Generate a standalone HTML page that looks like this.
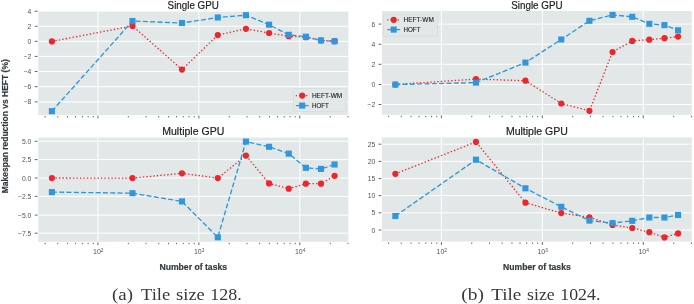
<!DOCTYPE html>
<html><head><meta charset="utf-8"><style>
html,body{margin:0;padding:0;background:#fff;}
body{width:694px;height:304px;overflow:hidden;}
svg{display:block;will-change:transform;}
</style></head><body>
<svg width="694" height="304" viewBox="0 0 694 304">
<rect width="694" height="304" fill="#fff"/>
<clipPath id="c0"><rect x="38.2" y="11.2" width="310.10" height="103.80"/></clipPath>
<rect x="38.2" y="11.2" width="310.10" height="103.80" fill="#e2e8e8"/>
<path d="M38.2 11.2H348.3M38.2 26.3H348.3M38.2 41.3H348.3M38.2 56.4H348.3M38.2 71.5H348.3M38.2 86.7H348.3M38.2 101.9H348.3M97.92 11.2V115.0M198.87 11.2V115.0M299.82 11.2V115.0" stroke="#ffffff" stroke-width="1.0" fill="none" clip-path="url(#c0)"/>
<path d="M34.70 11.2H37.60M34.70 26.3H37.60M34.70 41.3H37.60M34.70 56.4H37.60M34.70 71.5H37.60M34.70 86.7H37.60M34.70 101.9H37.60" stroke="#555555" stroke-width="0.9" fill="none"/>
<path d="M45.14 116.00V117.40M57.75 116.00V117.40M67.53 116.00V117.40M75.52 116.00V117.40M82.28 116.00V117.40M88.14 116.00V117.40M93.30 116.00V117.40M97.92 115.60V118.40M128.31 116.00V117.40M146.09 116.00V117.40M158.70 116.00V117.40M168.48 116.00V117.40M176.47 116.00V117.40M183.23 116.00V117.40M189.09 116.00V117.40M194.25 116.00V117.40M198.87 115.60V118.40M229.26 116.00V117.40M247.04 116.00V117.40M259.65 116.00V117.40M269.43 116.00V117.40M277.42 116.00V117.40M284.18 116.00V117.40M290.04 116.00V117.40M295.20 116.00V117.40M299.82 115.60V118.40M330.21 116.00V117.40M347.99 116.00V117.40" stroke="#555555" stroke-width="0.9" fill="none"/>
<text x="31.40" y="13.70" font-family="Liberation Sans, sans-serif" font-size="6.8" fill="#555555" text-anchor="end">4</text>
<text x="31.40" y="28.80" font-family="Liberation Sans, sans-serif" font-size="6.8" fill="#555555" text-anchor="end">2</text>
<text x="31.40" y="43.80" font-family="Liberation Sans, sans-serif" font-size="6.8" fill="#555555" text-anchor="end">0</text>
<text x="31.40" y="58.90" font-family="Liberation Sans, sans-serif" font-size="6.8" fill="#555555" text-anchor="end">−2</text>
<text x="31.40" y="74.00" font-family="Liberation Sans, sans-serif" font-size="6.8" fill="#555555" text-anchor="end">−4</text>
<text x="31.40" y="89.20" font-family="Liberation Sans, sans-serif" font-size="6.8" fill="#555555" text-anchor="end">−6</text>
<text x="31.40" y="104.40" font-family="Liberation Sans, sans-serif" font-size="6.8" fill="#555555" text-anchor="end">−8</text>
<text x="193.25" y="9.00" font-family="Liberation Sans, sans-serif" font-size="10.3" fill="#1e1e1e" stroke="#1e1e1e" stroke-width="0.2" text-anchor="middle" textLength="51.3" lengthAdjust="spacingAndGlyphs">Single GPU</text>
<g clip-path="url(#c0)">
<polyline points="51.89,41.4 132.49,25.9 181.96,69.6 217.80,35.1 245.93,28.8 269.08,33.0 288.76,36.2 305.87,37.2 321.01,40.5 334.59,41.2" fill="none" stroke="#ec262c" stroke-width="1.3" stroke-dasharray="1.4 2.1"/>
<circle cx="51.89" cy="41.4" r="3.1" fill="#ec262c"/>
<circle cx="132.49" cy="25.9" r="3.1" fill="#ec262c"/>
<circle cx="181.96" cy="69.6" r="3.1" fill="#ec262c"/>
<circle cx="217.80" cy="35.1" r="3.1" fill="#ec262c"/>
<circle cx="245.93" cy="28.8" r="3.1" fill="#ec262c"/>
<circle cx="269.08" cy="33.0" r="3.1" fill="#ec262c"/>
<circle cx="288.76" cy="36.2" r="3.1" fill="#ec262c"/>
<circle cx="305.87" cy="37.2" r="3.1" fill="#ec262c"/>
<circle cx="321.01" cy="40.5" r="3.1" fill="#ec262c"/>
<circle cx="334.59" cy="41.2" r="3.1" fill="#ec262c"/>
<polyline points="51.89,111.2 132.49,21.0 181.96,23.0 217.80,17.5 245.93,15.2 269.08,24.7 288.76,34.8 305.87,36.7 321.01,40.4 334.59,41.3" fill="none" stroke="#3196db" stroke-width="1.35" stroke-dasharray="5.0 2.3"/>
<rect x="48.84" y="108.15" width="6.1" height="6.1" fill="#3196db"/>
<rect x="129.44" y="17.95" width="6.1" height="6.1" fill="#3196db"/>
<rect x="178.91" y="19.95" width="6.1" height="6.1" fill="#3196db"/>
<rect x="214.75" y="14.45" width="6.1" height="6.1" fill="#3196db"/>
<rect x="242.88" y="12.15" width="6.1" height="6.1" fill="#3196db"/>
<rect x="266.03" y="21.65" width="6.1" height="6.1" fill="#3196db"/>
<rect x="285.71" y="31.75" width="6.1" height="6.1" fill="#3196db"/>
<rect x="302.82" y="33.65" width="6.1" height="6.1" fill="#3196db"/>
<rect x="317.96" y="37.35" width="6.1" height="6.1" fill="#3196db"/>
<rect x="331.54" y="38.25" width="6.1" height="6.1" fill="#3196db"/>
</g>
<rect x="293.5" y="88.5" width="52.5" height="23.0" fill="#e2e8e8" stroke="#d6dcdc" stroke-width="0.8" rx="1"/>
<path d="M295.80 95.60H308.60" stroke="#ec262c" stroke-width="1.3" stroke-dasharray="1.4 2.1" stroke-dashoffset="0.3"/>
<circle cx="302.20" cy="95.60" r="3.1" fill="#ec262c"/>
<text x="311.90" y="97.90" font-family="Liberation Sans, sans-serif" font-size="6.6" fill="#222" stroke="#222" stroke-width="0.12" textLength="30.3" lengthAdjust="spacingAndGlyphs">HEFT-WM</text>
<path d="M295.80 105.60H308.60" stroke="#3196db" stroke-width="1.3"/>
<rect x="299.15" y="102.55" width="6.1" height="6.1" fill="#3196db"/>
<text x="311.90" y="107.90" font-family="Liberation Sans, sans-serif" font-size="6.6" fill="#222" stroke="#222" stroke-width="0.12" textLength="17.0" lengthAdjust="spacingAndGlyphs">HOFT</text>
<clipPath id="c1"><rect x="38.2" y="137.5" width="310.10" height="104.30"/></clipPath>
<rect x="38.2" y="137.5" width="310.10" height="104.30" fill="#e2e8e8"/>
<path d="M38.2 141.3H348.3M38.2 159.6H348.3M38.2 178.0H348.3M38.2 196.4H348.3M38.2 215.1H348.3M38.2 233.2H348.3M97.92 137.5V241.8M198.87 137.5V241.8M299.82 137.5V241.8" stroke="#ffffff" stroke-width="1.0" fill="none" clip-path="url(#c1)"/>
<path d="M34.70 141.3H37.60M34.70 159.6H37.60M34.70 178.0H37.60M34.70 196.4H37.60M34.70 215.1H37.60M34.70 233.2H37.60" stroke="#555555" stroke-width="0.9" fill="none"/>
<path d="M45.14 242.80V244.20M57.75 242.80V244.20M67.53 242.80V244.20M75.52 242.80V244.20M82.28 242.80V244.20M88.14 242.80V244.20M93.30 242.80V244.20M97.92 242.40V245.20M128.31 242.80V244.20M146.09 242.80V244.20M158.70 242.80V244.20M168.48 242.80V244.20M176.47 242.80V244.20M183.23 242.80V244.20M189.09 242.80V244.20M194.25 242.80V244.20M198.87 242.40V245.20M229.26 242.80V244.20M247.04 242.80V244.20M259.65 242.80V244.20M269.43 242.80V244.20M277.42 242.80V244.20M284.18 242.80V244.20M290.04 242.80V244.20M295.20 242.80V244.20M299.82 242.40V245.20M330.21 242.80V244.20M347.99 242.80V244.20" stroke="#555555" stroke-width="0.9" fill="none"/>
<text x="31.40" y="143.80" font-family="Liberation Sans, sans-serif" font-size="6.8" fill="#555555" text-anchor="end">5.0</text>
<text x="31.40" y="162.10" font-family="Liberation Sans, sans-serif" font-size="6.8" fill="#555555" text-anchor="end">2.5</text>
<text x="31.40" y="180.50" font-family="Liberation Sans, sans-serif" font-size="6.8" fill="#555555" text-anchor="end">0.0</text>
<text x="31.40" y="198.90" font-family="Liberation Sans, sans-serif" font-size="6.8" fill="#555555" text-anchor="end">−2.5</text>
<text x="31.40" y="217.60" font-family="Liberation Sans, sans-serif" font-size="6.8" fill="#555555" text-anchor="end">−5.0</text>
<text x="31.40" y="235.70" font-family="Liberation Sans, sans-serif" font-size="6.8" fill="#555555" text-anchor="end">−7.5</text>
<text x="93.02" y="254.40" font-family="Liberation Sans, sans-serif" font-size="7.0" fill="#555555">10<tspan font-size="4.8" dy="-2.2">2</tspan></text>
<text x="193.97" y="254.40" font-family="Liberation Sans, sans-serif" font-size="7.0" fill="#555555">10<tspan font-size="4.8" dy="-2.2">3</tspan></text>
<text x="294.92" y="254.40" font-family="Liberation Sans, sans-serif" font-size="7.0" fill="#555555">10<tspan font-size="4.8" dy="-2.2">4</tspan></text>
<text x="193.25" y="270.20" font-family="Liberation Sans, sans-serif" font-size="8.5" font-weight="bold" fill="#343c40" stroke="#343c40" stroke-width="0.2" text-anchor="middle" textLength="67.7" lengthAdjust="spacingAndGlyphs">Number of tasks</text>
<text x="193.25" y="135.30" font-family="Liberation Sans, sans-serif" font-size="10.3" fill="#1e1e1e" stroke="#1e1e1e" stroke-width="0.2" text-anchor="middle" textLength="62" lengthAdjust="spacingAndGlyphs">Multiple GPU</text>
<g clip-path="url(#c1)">
<polyline points="51.89,178.0 132.49,178.1 181.96,173.3 217.80,178.1 245.93,155.6 269.08,183.4 288.76,188.7 305.87,183.7 321.01,183.7 334.59,175.8" fill="none" stroke="#ec262c" stroke-width="1.3" stroke-dasharray="1.4 2.1"/>
<circle cx="51.89" cy="178.0" r="3.1" fill="#ec262c"/>
<circle cx="132.49" cy="178.1" r="3.1" fill="#ec262c"/>
<circle cx="181.96" cy="173.3" r="3.1" fill="#ec262c"/>
<circle cx="217.80" cy="178.1" r="3.1" fill="#ec262c"/>
<circle cx="245.93" cy="155.6" r="3.1" fill="#ec262c"/>
<circle cx="269.08" cy="183.4" r="3.1" fill="#ec262c"/>
<circle cx="288.76" cy="188.7" r="3.1" fill="#ec262c"/>
<circle cx="305.87" cy="183.7" r="3.1" fill="#ec262c"/>
<circle cx="321.01" cy="183.7" r="3.1" fill="#ec262c"/>
<circle cx="334.59" cy="175.8" r="3.1" fill="#ec262c"/>
<polyline points="51.89,192.1 132.49,193.2 181.96,201.4 217.80,237.3 245.93,141.6 269.08,146.8 288.76,153.6 305.87,167.8 321.01,168.9 334.59,164.5" fill="none" stroke="#3196db" stroke-width="1.35" stroke-dasharray="5.0 2.3"/>
<rect x="48.84" y="189.05" width="6.1" height="6.1" fill="#3196db"/>
<rect x="129.44" y="190.15" width="6.1" height="6.1" fill="#3196db"/>
<rect x="178.91" y="198.35" width="6.1" height="6.1" fill="#3196db"/>
<rect x="214.75" y="234.25" width="6.1" height="6.1" fill="#3196db"/>
<rect x="242.88" y="138.55" width="6.1" height="6.1" fill="#3196db"/>
<rect x="266.03" y="143.75" width="6.1" height="6.1" fill="#3196db"/>
<rect x="285.71" y="150.55" width="6.1" height="6.1" fill="#3196db"/>
<rect x="302.82" y="164.75" width="6.1" height="6.1" fill="#3196db"/>
<rect x="317.96" y="165.85" width="6.1" height="6.1" fill="#3196db"/>
<rect x="331.54" y="161.45" width="6.1" height="6.1" fill="#3196db"/>
</g>
<clipPath id="c2"><rect x="382.0" y="11.0" width="309.80" height="103.80"/></clipPath>
<rect x="382.0" y="11.0" width="309.80" height="103.80" fill="#e2e8e8"/>
<path d="M382.0 24.1H691.8M382.0 44.2H691.8M382.0 64.3H691.8M382.0 84.5H691.8M382.0 104.5H691.8M441.39 11.0V114.8M542.34 11.0V114.8M643.29 11.0V114.8" stroke="#ffffff" stroke-width="1.0" fill="none" clip-path="url(#c2)"/>
<path d="M378.50 24.1H381.40M378.50 44.2H381.40M378.50 64.3H381.40M378.50 84.5H381.40M378.50 104.5H381.40" stroke="#555555" stroke-width="0.9" fill="none"/>
<path d="M388.61 115.80V117.20M401.22 115.80V117.20M411.00 115.80V117.20M418.99 115.80V117.20M425.75 115.80V117.20M431.61 115.80V117.20M436.77 115.80V117.20M441.39 115.40V118.20M471.78 115.80V117.20M489.56 115.80V117.20M502.17 115.80V117.20M511.95 115.80V117.20M519.94 115.80V117.20M526.70 115.80V117.20M532.56 115.80V117.20M537.72 115.80V117.20M542.34 115.40V118.20M572.73 115.80V117.20M590.51 115.80V117.20M603.12 115.80V117.20M612.90 115.80V117.20M620.89 115.80V117.20M627.65 115.80V117.20M633.51 115.80V117.20M638.67 115.80V117.20M643.29 115.40V118.20M673.68 115.80V117.20M691.46 115.80V117.20" stroke="#555555" stroke-width="0.9" fill="none"/>
<text x="375.20" y="26.60" font-family="Liberation Sans, sans-serif" font-size="6.8" fill="#555555" text-anchor="end">6</text>
<text x="375.20" y="46.70" font-family="Liberation Sans, sans-serif" font-size="6.8" fill="#555555" text-anchor="end">4</text>
<text x="375.20" y="66.80" font-family="Liberation Sans, sans-serif" font-size="6.8" fill="#555555" text-anchor="end">2</text>
<text x="375.20" y="87.00" font-family="Liberation Sans, sans-serif" font-size="6.8" fill="#555555" text-anchor="end">0</text>
<text x="375.20" y="107.00" font-family="Liberation Sans, sans-serif" font-size="6.8" fill="#555555" text-anchor="end">−2</text>
<text x="536.90" y="8.80" font-family="Liberation Sans, sans-serif" font-size="10.3" fill="#1e1e1e" stroke="#1e1e1e" stroke-width="0.2" text-anchor="middle" textLength="51.3" lengthAdjust="spacingAndGlyphs">Single GPU</text>
<g clip-path="url(#c2)">
<polyline points="395.36,84.5 475.96,79.1 525.43,80.7 561.27,103.5 589.40,110.8 612.55,52.0 632.23,40.9 649.34,39.7 664.48,38.2 678.06,36.6" fill="none" stroke="#ec262c" stroke-width="1.3" stroke-dasharray="1.4 2.1"/>
<circle cx="395.36" cy="84.5" r="3.1" fill="#ec262c"/>
<circle cx="475.96" cy="79.1" r="3.1" fill="#ec262c"/>
<circle cx="525.43" cy="80.7" r="3.1" fill="#ec262c"/>
<circle cx="561.27" cy="103.5" r="3.1" fill="#ec262c"/>
<circle cx="589.40" cy="110.8" r="3.1" fill="#ec262c"/>
<circle cx="612.55" cy="52.0" r="3.1" fill="#ec262c"/>
<circle cx="632.23" cy="40.9" r="3.1" fill="#ec262c"/>
<circle cx="649.34" cy="39.7" r="3.1" fill="#ec262c"/>
<circle cx="664.48" cy="38.2" r="3.1" fill="#ec262c"/>
<circle cx="678.06" cy="36.6" r="3.1" fill="#ec262c"/>
<polyline points="395.36,84.6 475.96,82.6 525.43,62.6 561.27,39.5 589.40,20.8 612.55,14.9 632.23,16.8 649.34,23.8 664.48,25.1 678.06,30.3" fill="none" stroke="#3196db" stroke-width="1.35" stroke-dasharray="5.0 2.3"/>
<rect x="392.31" y="81.55" width="6.1" height="6.1" fill="#3196db"/>
<rect x="472.91" y="79.55" width="6.1" height="6.1" fill="#3196db"/>
<rect x="522.38" y="59.55" width="6.1" height="6.1" fill="#3196db"/>
<rect x="558.22" y="36.45" width="6.1" height="6.1" fill="#3196db"/>
<rect x="586.35" y="17.75" width="6.1" height="6.1" fill="#3196db"/>
<rect x="609.50" y="11.85" width="6.1" height="6.1" fill="#3196db"/>
<rect x="629.18" y="13.75" width="6.1" height="6.1" fill="#3196db"/>
<rect x="646.29" y="20.75" width="6.1" height="6.1" fill="#3196db"/>
<rect x="661.43" y="22.05" width="6.1" height="6.1" fill="#3196db"/>
<rect x="675.01" y="27.25" width="6.1" height="6.1" fill="#3196db"/>
</g>
<rect x="383.6" y="14.5" width="53.9" height="21.6" fill="#e2e8e8" stroke="#d6dcdc" stroke-width="0.8" rx="1"/>
<path d="M387.30 19.80H400.10" stroke="#ec262c" stroke-width="1.3" stroke-dasharray="1.4 2.1" stroke-dashoffset="0.3"/>
<circle cx="393.70" cy="19.80" r="3.1" fill="#ec262c"/>
<text x="403.50" y="22.10" font-family="Liberation Sans, sans-serif" font-size="6.6" fill="#222" stroke="#222" stroke-width="0.12" textLength="30.3" lengthAdjust="spacingAndGlyphs">HEFT-WM</text>
<path d="M387.30 29.60H400.10" stroke="#3196db" stroke-width="1.3"/>
<rect x="390.65" y="26.55" width="6.1" height="6.1" fill="#3196db"/>
<text x="403.50" y="31.90" font-family="Liberation Sans, sans-serif" font-size="6.6" fill="#222" stroke="#222" stroke-width="0.12" textLength="17.0" lengthAdjust="spacingAndGlyphs">HOFT</text>
<clipPath id="c3"><rect x="382.0" y="137.4" width="309.80" height="104.10"/></clipPath>
<rect x="382.0" y="137.4" width="309.80" height="104.10" fill="#e2e8e8"/>
<path d="M382.0 144.2H691.8M382.0 161.4H691.8M382.0 178.6H691.8M382.0 195.6H691.8M382.0 212.8H691.8M382.0 230.0H691.8M441.39 137.4V241.5M542.34 137.4V241.5M643.29 137.4V241.5" stroke="#ffffff" stroke-width="1.0" fill="none" clip-path="url(#c3)"/>
<path d="M378.50 144.2H381.40M378.50 161.4H381.40M378.50 178.6H381.40M378.50 195.6H381.40M378.50 212.8H381.40M378.50 230.0H381.40" stroke="#555555" stroke-width="0.9" fill="none"/>
<path d="M388.61 242.50V243.90M401.22 242.50V243.90M411.00 242.50V243.90M418.99 242.50V243.90M425.75 242.50V243.90M431.61 242.50V243.90M436.77 242.50V243.90M441.39 242.10V244.90M471.78 242.50V243.90M489.56 242.50V243.90M502.17 242.50V243.90M511.95 242.50V243.90M519.94 242.50V243.90M526.70 242.50V243.90M532.56 242.50V243.90M537.72 242.50V243.90M542.34 242.10V244.90M572.73 242.50V243.90M590.51 242.50V243.90M603.12 242.50V243.90M612.90 242.50V243.90M620.89 242.50V243.90M627.65 242.50V243.90M633.51 242.50V243.90M638.67 242.50V243.90M643.29 242.10V244.90M673.68 242.50V243.90M691.46 242.50V243.90" stroke="#555555" stroke-width="0.9" fill="none"/>
<text x="375.20" y="146.70" font-family="Liberation Sans, sans-serif" font-size="6.8" fill="#555555" text-anchor="end">25</text>
<text x="375.20" y="163.90" font-family="Liberation Sans, sans-serif" font-size="6.8" fill="#555555" text-anchor="end">20</text>
<text x="375.20" y="181.10" font-family="Liberation Sans, sans-serif" font-size="6.8" fill="#555555" text-anchor="end">15</text>
<text x="375.20" y="198.10" font-family="Liberation Sans, sans-serif" font-size="6.8" fill="#555555" text-anchor="end">10</text>
<text x="375.20" y="215.30" font-family="Liberation Sans, sans-serif" font-size="6.8" fill="#555555" text-anchor="end">5</text>
<text x="375.20" y="232.50" font-family="Liberation Sans, sans-serif" font-size="6.8" fill="#555555" text-anchor="end">0</text>
<text x="436.49" y="254.10" font-family="Liberation Sans, sans-serif" font-size="7.0" fill="#555555">10<tspan font-size="4.8" dy="-2.2">2</tspan></text>
<text x="537.44" y="254.10" font-family="Liberation Sans, sans-serif" font-size="7.0" fill="#555555">10<tspan font-size="4.8" dy="-2.2">3</tspan></text>
<text x="638.39" y="254.10" font-family="Liberation Sans, sans-serif" font-size="7.0" fill="#555555">10<tspan font-size="4.8" dy="-2.2">4</tspan></text>
<text x="536.90" y="269.90" font-family="Liberation Sans, sans-serif" font-size="8.5" font-weight="bold" fill="#343c40" stroke="#343c40" stroke-width="0.2" text-anchor="middle" textLength="67.7" lengthAdjust="spacingAndGlyphs">Number of tasks</text>
<text x="536.90" y="135.20" font-family="Liberation Sans, sans-serif" font-size="10.3" fill="#1e1e1e" stroke="#1e1e1e" stroke-width="0.2" text-anchor="middle" textLength="62" lengthAdjust="spacingAndGlyphs">Multiple GPU</text>
<g clip-path="url(#c3)">
<polyline points="395.36,173.8 475.96,141.9 525.43,202.7 561.27,213.1 589.40,217.3 612.55,224.9 632.23,228.0 649.34,232.2 664.48,237.4 678.06,233.4" fill="none" stroke="#ec262c" stroke-width="1.3" stroke-dasharray="1.4 2.1"/>
<circle cx="395.36" cy="173.8" r="3.1" fill="#ec262c"/>
<circle cx="475.96" cy="141.9" r="3.1" fill="#ec262c"/>
<circle cx="525.43" cy="202.7" r="3.1" fill="#ec262c"/>
<circle cx="561.27" cy="213.1" r="3.1" fill="#ec262c"/>
<circle cx="589.40" cy="217.3" r="3.1" fill="#ec262c"/>
<circle cx="612.55" cy="224.9" r="3.1" fill="#ec262c"/>
<circle cx="632.23" cy="228.0" r="3.1" fill="#ec262c"/>
<circle cx="649.34" cy="232.2" r="3.1" fill="#ec262c"/>
<circle cx="664.48" cy="237.4" r="3.1" fill="#ec262c"/>
<circle cx="678.06" cy="233.4" r="3.1" fill="#ec262c"/>
<polyline points="395.36,216.0 475.96,159.7 525.43,188.3 561.27,206.8 589.40,220.6 612.55,223.1 632.23,220.8 649.34,217.5 664.48,217.5 678.06,215.0" fill="none" stroke="#3196db" stroke-width="1.35" stroke-dasharray="5.0 2.3"/>
<rect x="392.31" y="212.95" width="6.1" height="6.1" fill="#3196db"/>
<rect x="472.91" y="156.65" width="6.1" height="6.1" fill="#3196db"/>
<rect x="522.38" y="185.25" width="6.1" height="6.1" fill="#3196db"/>
<rect x="558.22" y="203.75" width="6.1" height="6.1" fill="#3196db"/>
<rect x="586.35" y="217.55" width="6.1" height="6.1" fill="#3196db"/>
<rect x="609.50" y="220.05" width="6.1" height="6.1" fill="#3196db"/>
<rect x="629.18" y="217.75" width="6.1" height="6.1" fill="#3196db"/>
<rect x="646.29" y="214.45" width="6.1" height="6.1" fill="#3196db"/>
<rect x="661.43" y="214.45" width="6.1" height="6.1" fill="#3196db"/>
<rect x="675.01" y="211.95" width="6.1" height="6.1" fill="#3196db"/>
</g>
<text transform="translate(7.9,126.2) rotate(-90)" font-family="Liberation Sans, sans-serif" font-size="8.8" font-weight="bold" fill="#343c40" stroke="#343c40" stroke-width="0.2" text-anchor="middle" textLength="134" lengthAdjust="spacingAndGlyphs">Makespan reduction vs HEFT (%)</text>
<text x="112.00" y="299.6" font-family="Liberation Serif, serif" font-size="16.8" fill="#383838" textLength="20.90" lengthAdjust="spacingAndGlyphs">(a)</text>
<text x="141.00" y="299.6" font-family="Liberation Serif, serif" font-size="16.8" fill="#383838" textLength="29.20" lengthAdjust="spacingAndGlyphs">Tile</text>
<text x="176.10" y="299.6" font-family="Liberation Serif, serif" font-size="16.8" fill="#383838" textLength="28.70" lengthAdjust="spacingAndGlyphs">size</text>
<text x="210.20" y="299.6" font-family="Liberation Serif, serif" font-size="16.8" fill="#383838" textLength="31.50" lengthAdjust="spacingAndGlyphs">128.</text>
<text x="461.20" y="299.6" font-family="Liberation Serif, serif" font-size="16.8" fill="#383838" textLength="22.70" lengthAdjust="spacingAndGlyphs">(b)</text>
<text x="491.20" y="299.6" font-family="Liberation Serif, serif" font-size="16.8" fill="#383838" textLength="30.10" lengthAdjust="spacingAndGlyphs">Tile</text>
<text x="527.10" y="299.6" font-family="Liberation Serif, serif" font-size="16.8" fill="#383838" textLength="27.60" lengthAdjust="spacingAndGlyphs">size</text>
<text x="560.30" y="299.6" font-family="Liberation Serif, serif" font-size="16.8" fill="#383838" textLength="40.10" lengthAdjust="spacingAndGlyphs">1024.</text>
</svg></body></html>
